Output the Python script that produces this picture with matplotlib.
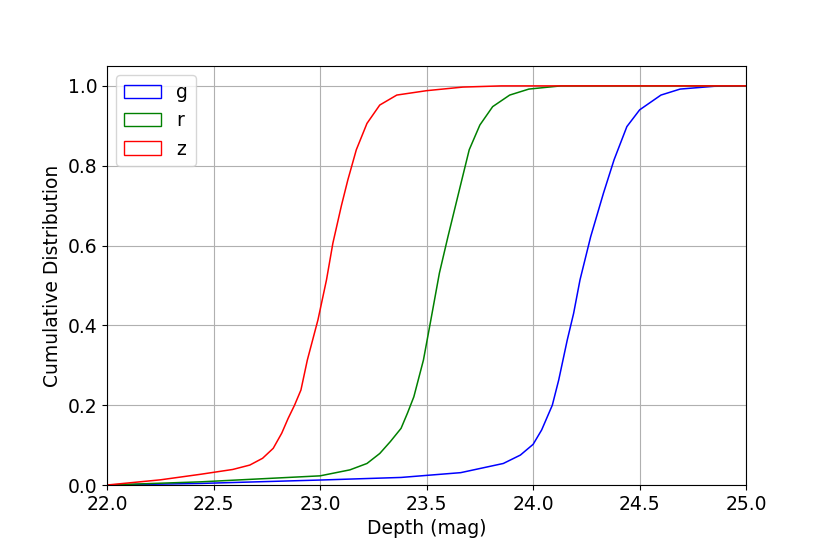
import matplotlib
matplotlib.use("Agg")
import matplotlib.pyplot as plt
from matplotlib.patches import Patch

# depth (mag) knots and cumulative fraction
g_depth = [22.0, 22.44, 23.0, 23.38, 23.66, 23.86, 23.94, 24.0, 24.04, 24.09,
           24.12, 24.16, 24.19, 24.22, 24.27, 24.33, 24.38, 24.44, 24.50, 24.60,
           24.69, 24.85, 25.0]
g_cdf = [0.0, 0.004, 0.0125, 0.019, 0.031, 0.054, 0.075, 0.102, 0.138, 0.200,
         0.263, 0.363, 0.430, 0.514, 0.622, 0.731, 0.815, 0.898, 0.940, 0.977,
         0.992, 0.999, 1.0]

r_depth = [22.0, 22.44, 23.0, 23.14, 23.22, 23.28, 23.33, 23.38, 23.41, 23.44,
           23.485, 23.52, 23.56, 23.60, 23.665, 23.70, 23.75, 23.81, 23.89, 23.98,
           24.13, 25.0]
r_cdf = [0.0, 0.008, 0.023, 0.038, 0.054, 0.079, 0.109, 0.142, 0.180, 0.221,
         0.313, 0.414, 0.531, 0.622, 0.764, 0.840, 0.902, 0.948, 0.977, 0.992,
         1.0, 1.0]

z_depth = [22.0, 22.25, 22.44, 22.59, 22.67, 22.73, 22.78, 22.82, 22.85, 22.88,
           22.91, 22.94, 22.99, 23.03, 23.06, 23.10, 23.13, 23.17, 23.22, 23.28,
           23.36, 23.50, 23.67, 23.85, 25.0]
z_cdf = [0.0, 0.013, 0.027, 0.039, 0.050, 0.067, 0.092, 0.130, 0.167, 0.200,
         0.238, 0.313, 0.414, 0.514, 0.606, 0.700, 0.764, 0.840, 0.906, 0.952,
         0.977, 0.988, 0.997, 1.0, 1.0]

bands = ["g", "r", "z"]
colors = ["blue", "green", "red"]
depths = [g_depth, r_depth, z_depth]
cdfs = [g_cdf, r_cdf, z_cdf]

fig = plt.figure(figsize=(8.3, 5.54), dpi=100)
ax = fig.add_axes([0.129, 0.1245, 0.77, 0.7565])

handles = []
for band, c, d, f in zip(bands, colors, depths, cdfs):
    ax.plot(d, f, color=c, lw=1.1)
    handles.append(Patch(facecolor="none", edgecolor=c, label=band))

ax.set_xlim(22.0, 25.0)
ax.set_ylim(0, 1.05)
ax.grid(True)
ax.tick_params(labelsize=13.5)
ax.set_xlabel("Depth (mag)", fontsize=13.5)
ax.set_ylabel("Cumulative Distribution", fontsize=13.5)
ax.legend(handles=handles, loc="upper left", fontsize=13.5)

fig.savefig("out.png", dpi=100)
